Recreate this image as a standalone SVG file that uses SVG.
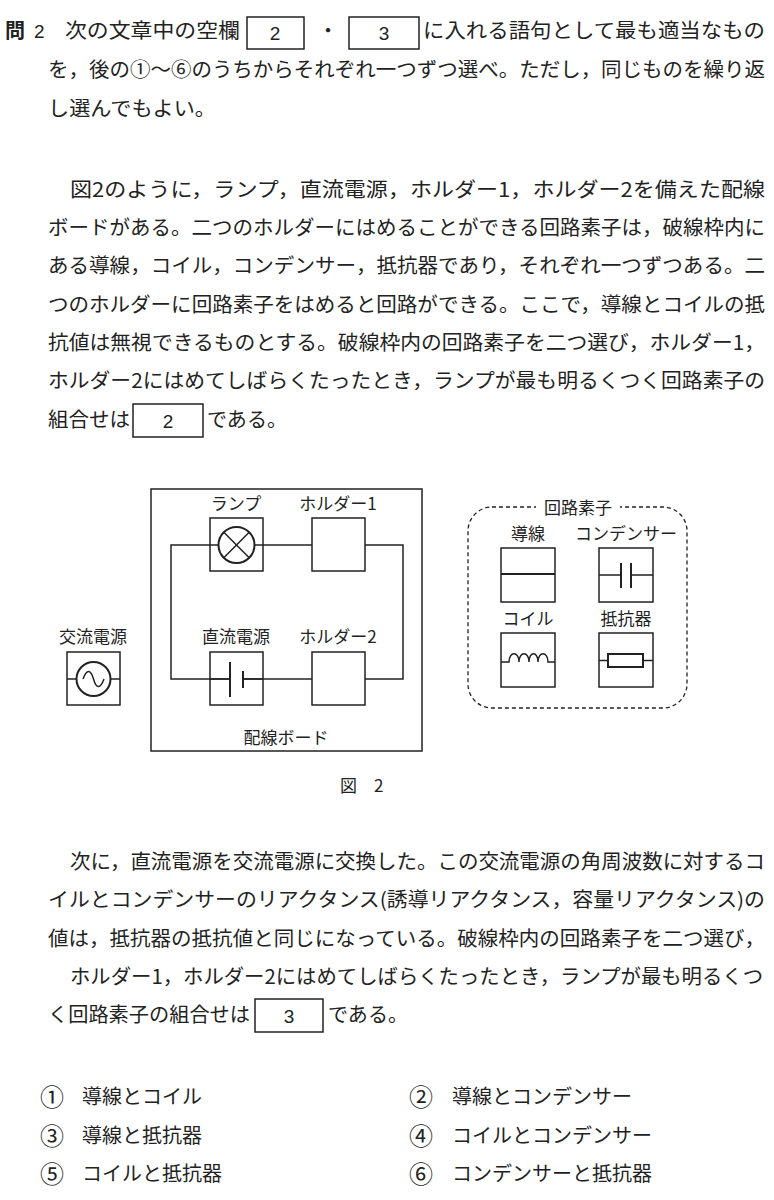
<svg xmlns="http://www.w3.org/2000/svg" width="774" height="1200" viewBox="0 0 774 1200">
<style>
text{font-family:"Noto Sans CJK JP","Noto Sans",sans-serif;fill:#222;font-size:20px}
.s{font-size:17px}
.c{font-size:24px}
.n{font-family:"Liberation Sans",sans-serif;font-size:19px}
.b{fill:none;stroke:#222;stroke-width:1.5}
.w{fill:none;stroke:#222;stroke-width:2}
</style>
<rect width="774" height="1200" fill="#fff"/>
<g id="text">
<text x="5" y="38" font-weight="bold">問</text><text x="34" y="38" class="n">2</text>
<text x="65" y="38" textLength="175" lengthAdjust="spacingAndGlyphs">次の文章中の空欄</text>
<rect class="b" x="247" y="17" width="57" height="32"/><text x="275" y="40" class="n" text-anchor="middle">2</text>
<text x="318" y="38">・</text>
<rect class="b" x="349" y="17" width="70" height="32"/><text x="384" y="40" class="n" text-anchor="middle">3</text>
<text x="423" y="38" textLength="342" lengthAdjust="spacingAndGlyphs">に入れる語句として最も適当なもの</text>
<text x="48" y="77" textLength="717" lengthAdjust="spacingAndGlyphs">を，後の①～⑥のうちからそれぞれ一つずつ選べ。ただし，同じものを繰り返</text>
<text x="48" y="116" textLength="168" lengthAdjust="spacingAndGlyphs">し選んでもよい。</text>

<text x="70" y="197" textLength="695" lengthAdjust="spacingAndGlyphs">図2のように，ランプ，直流電源，ホルダー1，ホルダー2を備えた配線</text>
<text x="48" y="235" textLength="717" lengthAdjust="spacingAndGlyphs">ボードがある。二つのホルダーにはめることができる回路素子は，破線枠内に</text>
<text x="48" y="273" textLength="717" lengthAdjust="spacingAndGlyphs">ある導線，コイル，コンデンサー，抵抗器であり，それぞれ一つずつある。二</text>
<text x="48" y="312" textLength="717" lengthAdjust="spacingAndGlyphs">つのホルダーに回路素子をはめると回路ができる。ここで，導線とコイルの抵</text>
<text x="48" y="350" textLength="717" lengthAdjust="spacingAndGlyphs">抗値は無視できるものとする。破線枠内の回路素子を二つ選び，ホルダー1，</text>
<text x="48" y="388" textLength="717" lengthAdjust="spacingAndGlyphs">ホルダー2にはめてしばらくたったとき，ランプが最も明るくつく回路素子の</text>
<text x="48" y="427" textLength="82" lengthAdjust="spacingAndGlyphs">組合せは</text>
<rect class="b" x="133" y="404" width="70" height="33"/><text x="168" y="428" class="n" text-anchor="middle">2</text>
<text x="207" y="427" textLength="80" lengthAdjust="spacingAndGlyphs">である。</text>

<text x="70" y="869" textLength="695" lengthAdjust="spacingAndGlyphs">次に，直流電源を交流電源に交換した。この交流電源の角周波数に対するコ</text>
<text x="48" y="907" textLength="717" lengthAdjust="spacingAndGlyphs">イルとコンデンサーのリアクタンス(誘導リアクタンス，容量リアクタンス)の</text>
<text x="48" y="946" textLength="717" lengthAdjust="spacingAndGlyphs">値は，抵抗器の抵抗値と同じになっている。破線枠内の回路素子を二つ選び，</text>
<text x="70" y="984" textLength="693" lengthAdjust="spacingAndGlyphs">ホルダー1，ホルダー2にはめてしばらくたったとき，ランプが最も明るくつ</text>
<text x="48" y="1022" textLength="202" lengthAdjust="spacingAndGlyphs">く回路素子の組合せは</text>
<rect class="b" x="255" y="999" width="68" height="33"/><text x="289" y="1023" class="n" text-anchor="middle">3</text>
<text x="328" y="1022" textLength="80" lengthAdjust="spacingAndGlyphs">である。</text>

<text class="c" x="40" y="1106">①</text><text x="82" y="1104">導線とコイル</text>
<text class="c" x="409" y="1106">②</text><text x="452" y="1104">導線とコンデンサー</text>
<text class="c" x="40" y="1145">③</text><text x="82" y="1143">導線と抵抗器</text>
<text class="c" x="409" y="1145">④</text><text x="452" y="1143">コイルとコンデンサー</text>
<text class="c" x="40" y="1183">⑤</text><text x="82" y="1181">コイルと抵抗器</text>
<text class="c" x="409" y="1183">⑥</text><text x="452" y="1181">コンデンサーと抵抗器</text>
<text x="340" y="792" class="s">図　2</text>
</g>
<g id="board"><rect class="b" x="151" y="489" width="271" height="262"/><text class="s" x="286" y="744" text-anchor="middle">配線ボード</text></g>
<g id="connectors">
<polyline class="b" points="210,545 171,545 171,679 230,679"/>
<line class="b" x1="263" y1="545" x2="312" y2="545"/>
<polyline class="b" points="365,545 403,545 403,679 365,679"/>
<line class="b" x1="243" y1="679" x2="312" y2="679"/>
</g>
<g id="lamp"><text class="s" x="236" y="510" text-anchor="middle">ランプ</text><rect class="b" x="210" y="518" width="53" height="53"/><line class="b" x1="210" y1="545" x2="218" y2="545"/><line class="b" x1="255" y1="545" x2="263" y2="545"/><circle class="w" cx="236.5" cy="545" r="18"/><path class="b" d="M223.8 532.3L249.2 557.7M249.2 532.3L223.8 557.7"/></g>
<g id="holder1"><text class="s" x="338" y="510" text-anchor="middle">ホルダー1</text><rect class="b" x="312" y="518" width="53" height="53"/></g>
<g id="dc"><text class="s" x="236" y="643" text-anchor="middle">直流電源</text><rect class="b" x="210" y="652" width="53" height="53"/><line class="b" x1="210" y1="679" x2="230" y2="679"/><line class="w" x1="230" y1="662" x2="230" y2="697"/><line class="w" x1="243" y1="671" x2="243" y2="688"/><line class="b" x1="243" y1="679" x2="263" y2="679"/></g>
<g id="holder2"><text class="s" x="338" y="643" text-anchor="middle">ホルダー2</text><rect class="b" x="312" y="652" width="53" height="53"/></g>
<g id="ac"><text class="s" x="93" y="643" text-anchor="middle">交流電源</text><rect class="b" x="67" y="652" width="53" height="53"/><line class="b" x1="67" y1="679" x2="76" y2="679"/><line class="b" x1="111" y1="679" x2="120" y2="679"/><circle class="w" cx="93.5" cy="679" r="17"/><path class="b" d="M83 679C87 668 91 670 93.5 679S100 690 104 679"/></g>
<g id="elements">
<rect x="468" y="507" width="219" height="201" rx="24" fill="none" stroke="#222" stroke-width="1.3" stroke-dasharray="4,3"/>
<rect x="536" y="500" width="84" height="16" fill="#fff"/>
<text class="s" x="578" y="514" text-anchor="middle">回路素子</text>
</g>
<g id="wire"><text class="s" x="528" y="540" text-anchor="middle">導線</text><rect class="b" x="501" y="548" width="54" height="54"/><line class="w" x1="501" y1="574" x2="555" y2="574"/></g>
<g id="capacitor"><text class="s" x="626" y="540" text-anchor="middle">コンデンサー</text><rect class="b" x="599" y="548" width="54" height="54"/><path class="b" d="M599 575H621M631 575H653"/><line class="w" x1="621" y1="563" x2="621" y2="588"/><line class="w" x1="631" y1="563" x2="631" y2="588"/></g>
<g id="coil"><text class="s" x="528" y="625" text-anchor="middle">コイル</text><rect class="b" x="501" y="633" width="54" height="54"/><path class="b" d="M501 662H509C509 651 519 651 519 662C519 651 529 651 529 662C529 651 538 651 538 662C538 651 548 651 548 662H555"/></g>
<g id="resistor"><text class="s" x="626" y="625" text-anchor="middle">抵抗器</text><rect class="b" x="599" y="633" width="54" height="54"/><path class="b" d="M599 660.5H608M643 660.5H653"/><rect class="w" x="608" y="654" width="35" height="13"/></g>
</svg>
